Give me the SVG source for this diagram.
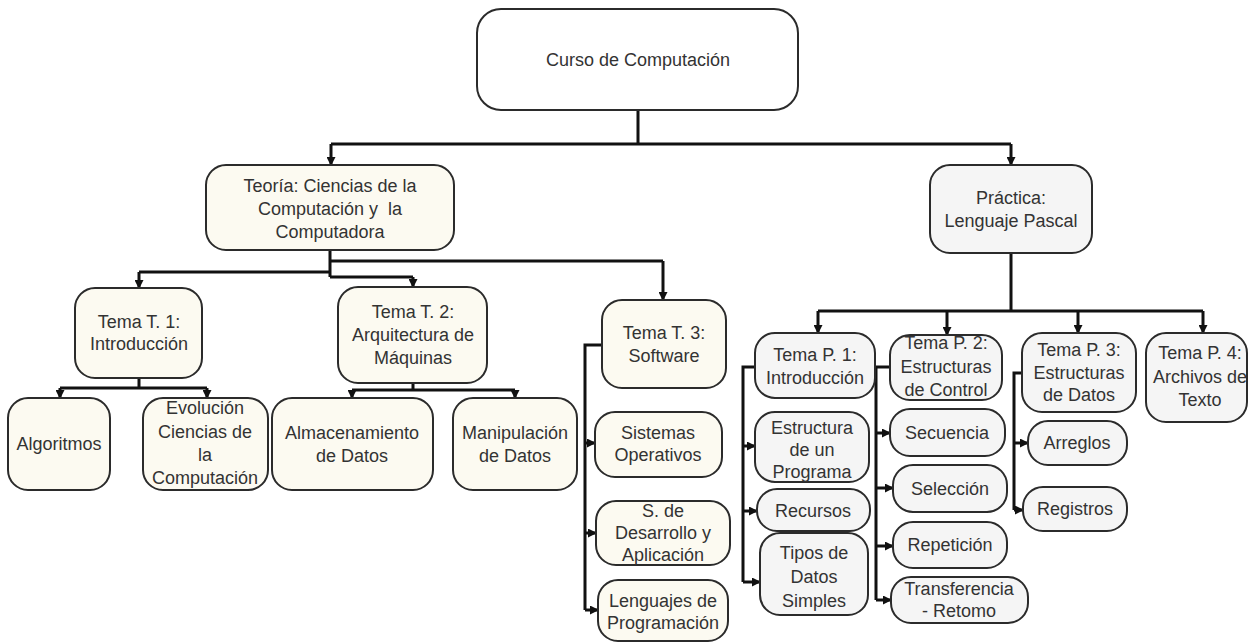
<svg xmlns="http://www.w3.org/2000/svg" width="1249" height="643" viewBox="0 0 1249 643">
<defs>
<marker id="ah" markerUnits="userSpaceOnUse" markerWidth="9" markerHeight="9" refX="8" refY="4.5" orient="auto">
<path d="M0,0 L9,4.5 L0,9 z" fill="#111"/>
</marker>
<style>
.n rect{stroke:#2b2b2b;stroke-width:2}
.t rect{fill:#fcfaf1}
.p rect{fill:#f5f5f5}
.r rect{fill:#ffffff}
text{font-family:"Liberation Sans",Arial,sans-serif;font-size:18px;fill:#333;text-anchor:middle;dominant-baseline:central;white-space:pre}
#connectors path{fill:none;stroke:#111;stroke-width:3}
#connectors path.a{marker-end:url(#ah)}
</style>
</defs>
<rect width="1249" height="643" fill="#ffffff"/>
<g id="connectors">
<path d="M638,110 V144 M331,144 H1011"/>
<path class="a" d="M331,144 V165"/>
<path class="a" d="M1011,144 V165"/>
<path d="M330,250 V277 M330,261 H663 M330,272 H139 M330,277 H413"/>
<path class="a" d="M663,261 V300"/>
<path class="a" d="M139,272 V288"/>
<path class="a" d="M413,277 V287"/>
<path d="M139,378 V388 M60,388 H207"/>
<path class="a" d="M60,388 V398"/>
<path class="a" d="M207,388 V398"/>
<path d="M413,383 V390 M352,390 H515"/>
<path class="a" d="M352,390 V398"/>
<path class="a" d="M515,390 V398"/>
<path d="M602,345 H585 V610"/>
<path class="a" d="M585,443 H595"/>
<path class="a" d="M585,533 H596"/>
<path class="a" d="M585,610 H598"/>
<path d="M1011,253 V311 M818,311 H1203"/>
<path class="a" d="M818,311 V333"/>
<path class="a" d="M947,311 V335"/>
<path class="a" d="M1078,311 V333"/>
<path class="a" d="M1203,311 V333"/>
<path d="M755,367 H743 V582"/>
<path class="a" d="M743,446 H755"/>
<path class="a" d="M743,511 H757"/>
<path class="a" d="M743,582 H760"/>
<path d="M890,367 H876 V600"/>
<path class="a" d="M876,433 H890"/>
<path class="a" d="M876,488 H893"/>
<path class="a" d="M876,546 H893"/>
<path class="a" d="M876,600 H891"/>
<path d="M1022,373 H1014 V510"/>
<path class="a" d="M1014,443 H1028"/>
<path class="a" d="M1014,510 H1023"/>
</g>
<g id="root" class="n r"><rect x="477" y="9" width="321" height="101" rx="24"/><text x="638" y="60">Curso de Computación</text></g>
<g id="teoria" class="n t"><rect x="206" y="165" width="248" height="85" rx="20"/><text x="330" y="186">Teoría: Ciencias de la</text><text x="330" y="209">Computación y  la</text><text x="330" y="232">Computadora</text></g>
<g id="practica" class="n p"><rect x="930" y="165" width="162" height="88" rx="20"/><text x="1011" y="198">Práctica:</text><text x="1011" y="221">Lenguaje Pascal</text></g>
<g id="t1" class="n t"><rect x="75" y="288" width="127" height="90" rx="20"/><text x="139" y="322">Tema T. 1:</text><text x="139" y="344">Introducción</text></g>
<g id="algoritmos" class="n t"><rect x="8" y="398" width="102" height="92" rx="20"/><text x="59" y="444">Algoritmos</text></g>
<g id="evolucion" class="n t"><rect x="143" y="398" width="125" height="92" rx="20"/><text x="205" y="408">Evolución</text><text x="205" y="432">Ciencias de</text><text x="205" y="455">la</text><text x="205" y="478">Computación</text></g>
<g id="t2" class="n t"><rect x="338" y="287" width="149" height="96" rx="20"/><text x="413" y="312">Tema T. 2:</text><text x="413" y="335">Arquitectura de</text><text x="413" y="358">Máquinas</text></g>
<g id="almacenamiento" class="n t"><rect x="272" y="398" width="161" height="92" rx="20"/><text x="352" y="433">Almacenamiento</text><text x="352" y="456">de Datos</text></g>
<g id="manipulacion" class="n t"><rect x="453" y="398" width="124" height="92" rx="20"/><text x="515" y="433">Manipulación</text><text x="515" y="456">de Datos</text></g>
<g id="t3" class="n t"><rect x="602" y="300" width="124" height="88" rx="20"/><text x="664" y="333">Tema T. 3:</text><text x="664" y="356">Software</text></g>
<g id="sistemas" class="n t"><rect x="595" y="412" width="127" height="65" rx="20"/><text x="658" y="433">Sistemas</text><text x="658" y="455">Operativos</text></g>
<g id="desarrollo" class="n t"><rect x="596" y="501" width="134" height="64" rx="20"/><text x="663" y="511">S. de</text><text x="663" y="533">Desarrollo y</text><text x="663" y="555">Aplicación</text></g>
<g id="lenguajes" class="n t"><rect x="598" y="580" width="130" height="61" rx="20"/><text x="663" y="601">Lenguajes de</text><text x="663" y="623">Programación</text></g>
<g id="p1" class="n p"><rect x="755" y="333" width="120" height="65" rx="20"/><text x="815" y="355">Tema P. 1:</text><text x="815" y="378">Introducción</text></g>
<g id="estructura" class="n p"><rect x="755" y="412" width="114" height="70" rx="20"/><text x="812" y="428">Estructura</text><text x="812" y="450">de un</text><text x="812" y="472">Programa</text></g>
<g id="recursos" class="n p"><rect x="757" y="489" width="113" height="42" rx="20"/><text x="813" y="511">Recursos</text></g>
<g id="tipos" class="n p"><rect x="760" y="533" width="108" height="82" rx="20"/><text x="814" y="553">Tipos de</text><text x="814" y="577">Datos</text><text x="814" y="601">Simples</text></g>
<g id="p2" class="n p"><rect x="890" y="335" width="112" height="65" rx="20"/><text x="946" y="343">Tema P. 2:</text><text x="946" y="367">Estructuras</text><text x="946" y="390">de Control</text></g>
<g id="secuencia" class="n p"><rect x="890" y="409" width="115" height="47" rx="20"/><text x="947" y="433">Secuencia</text></g>
<g id="seleccion" class="n p"><rect x="893" y="465" width="114" height="47" rx="20"/><text x="950" y="489">Selección</text></g>
<g id="repeticion" class="n p"><rect x="893" y="522" width="114" height="46" rx="20"/><text x="950" y="545">Repetición</text></g>
<g id="transferencia" class="n p"><rect x="891" y="577" width="137" height="46" rx="20"/><text x="959" y="589">Transferencia</text><text x="959" y="611">- Retomo</text></g>
<g id="p3" class="n p"><rect x="1022" y="333" width="114" height="79" rx="20"/><text x="1079" y="350">Tema P. 3:</text><text x="1079" y="373">Estructuras</text><text x="1079" y="395">de Datos</text></g>
<g id="arreglos" class="n p"><rect x="1028" y="421" width="99" height="44" rx="20"/><text x="1077" y="443">Arreglos</text></g>
<g id="registros" class="n p"><rect x="1023" y="487" width="104" height="44" rx="20"/><text x="1075" y="509">Registros</text></g>
<g id="p4" class="n p"><rect x="1146" y="333" width="101" height="89" rx="20"/><text x="1200" y="353">Tema P. 4:</text><text x="1200" y="377">Archivos de</text><text x="1200" y="400">Texto</text></g>
</svg>
